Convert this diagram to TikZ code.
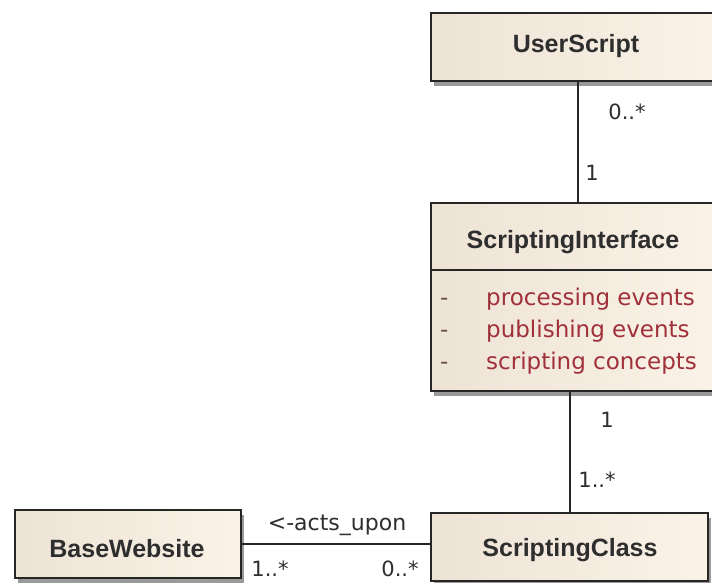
\documentclass[tikz,border=0pt]{standalone}
\usepackage{fontspec}
\setmainfont{DejaVu Sans}
\newfontfamily\namefont{Liberation Sans}
\usetikzlibrary{shadows}
\definecolor{boxL}{HTML}{EDE3D5}
\definecolor{boxR}{HTML}{FBF3E8}
\definecolor{attr}{HTML}{A0303A}
\definecolor{dashc}{HTML}{6A4A4A}
\definecolor{txt}{HTML}{2E2E2E}
\definecolor{shd}{HTML}{9A9A9A}
\tikzset{
  umlbox/.style={draw=black!85, line width=2.2pt, left color=boxL, right color=boxR,
    general shadow={fill=shd, shadow xshift=3pt, shadow yshift=-5pt},
    anchor=north west, inner sep=0pt},
  cname/.style={text=txt, font=\namefont\bfseries\fontsize{25}{30}\selectfont, inner sep=0pt},
  mult/.style={text=txt, font=\fontsize{21}{25}\selectfont, inner sep=0pt},
  attrtext/.style={text=attr, font=\fontsize{23}{27}\selectfont, inner sep=0pt, anchor=base west},
  conn/.style={draw=black!85, line width=2.2pt}
}
\begin{document}
\begin{tikzpicture}[x=1pt,y=-1pt]
\useasboundingbox (0,0) rectangle (712,583);
\clip (0,0) rectangle (712,583);
\fill[white] (0,0) rectangle (712,583);
% boxes
\node[umlbox, minimum width=294pt, minimum height=68pt] (us) at (430,12) {};
\node[cname] (usn) at (576,46) {UserScript};
\node[umlbox, minimum width=294pt, minimum height=188pt] (si) at (430,202) {};
\node[cname] (sin) at (573,242) {ScriptingInterface};
\coordinate (sep) at (430,270);
\draw[conn] (sep) -- (sep -| si.east);
\node[attrtext, text=dashc] (d1) at (440,305) {-};
\node[attrtext, text=dashc] (d2) at (440,337) {-};
\node[attrtext, text=dashc] (d3) at (440,369) {-};
\node[attrtext] (a1) at (486,305) {processing events};
\node[attrtext] (a2) at (486,337) {publishing events};
\node[attrtext] (a3) at (486,369) {scripting concepts};
\node[umlbox, minimum width=277pt, minimum height=68pt] (sc) at (430,512) {};
\node[cname] (scn) at (570,550) {ScriptingClass};
\node[umlbox, minimum width=226pt, minimum height=68pt] (bw) at (14,509) {};
\node[cname] (bwn) at (127,549) {BaseWebsite};
% connectors
\draw[conn] (us.south) -- (us.south |- si.north);
\draw[conn] (sc.north) -- (sc.north |- si.south);
\draw[conn] (bw.east) -- (bw.east -| sc.west);
% labels
\node[mult] (m1) at (627,112) {0..*};
\node[mult] (m2) at (592,173) {1};
\node[mult] (m3) at (607,420) {1};
\node[mult] (m4) at (597,480) {1..*};
\node[mult, font=\fontsize{22}{26}\selectfont] (lab) at (337,525) {<-acts\_upon};
\node[mult] (m5) at (270,569) {1..*};
\node[mult] (m6) at (400,569) {0..*};
\end{tikzpicture}
\end{document}
